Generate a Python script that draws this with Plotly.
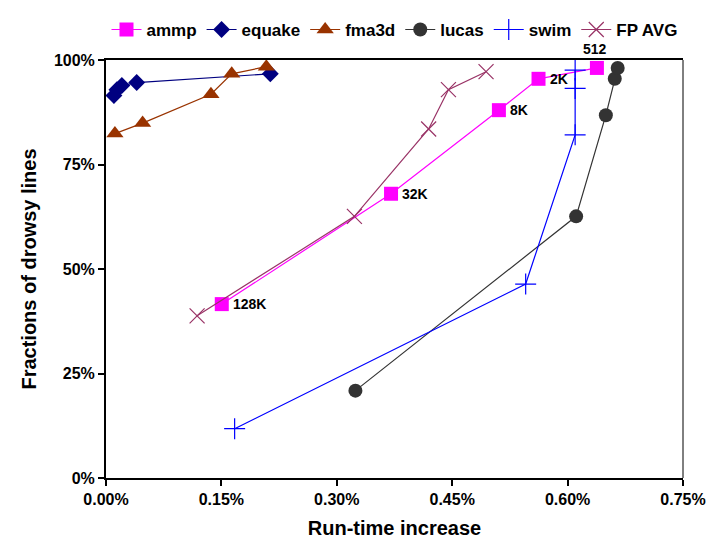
import plotly.graph_objects as go

# Run-time increase (%) vs. fraction of drowsy lines (%) per benchmark
ammp_x = [0.1505, 0.3705, 0.5107, 0.5622, 0.6381]
ammp_y = [41.6, 68.0, 88.0, 95.5, 98.1]
ammp_labels = ["128K", "32K", "8K", "2K", "512"]

equake_x = [0.0103, 0.0142, 0.0206, 0.0399, 0.2136]
equake_y = [91.5, 92.9, 93.9, 94.6, 96.7]

fma3d_x = [0.0116, 0.0476, 0.1364, 0.1634, 0.2084]
fma3d_y = [82.4, 84.9, 91.8, 96.7, 98.4]

lucas_x = [0.3242, 0.6111, 0.6497, 0.6613, 0.6651]
lucas_y = [20.9, 62.6, 86.8, 95.5, 98.1]

swim_x = [0.1672, 0.5455, 0.6098, 0.6098, 0.6098]
swim_y = [11.8, 46.4, 82.1, 93.2, 97.6]

fpavg_x = [0.1184, 0.3229, 0.4194, 0.4451, 0.4940]
fpavg_y = [38.8, 62.6, 83.5, 92.9, 97.2]

x_ticks = [0.0, 0.15, 0.30, 0.45, 0.60, 0.75]
y_ticks = [0, 25, 50, 75, 100]

FONT = "Liberation Sans, Arial, sans-serif"

fig = go.Figure()

def add_series(name, xs, ys, color, symbol, size, mline=0, mcolor=None):
    fig.add_trace(go.Scatter(
        x=xs, y=ys, name=name, mode="lines+markers",
        line=dict(color=color, width=1.2),
        marker=dict(symbol=symbol, size=size, color=mcolor or color,
                    line=dict(width=mline, color=color)),
        cliponaxis=False,
    ))

add_series("ammp", ammp_x, ammp_y, "#FF00FF", "square", 14)
add_series("equake", equake_x, equake_y, "#000080", "diamond", 13)
add_series("fma3d", fma3d_x, fma3d_y, "#993300", "triangle-up", 15)
add_series("lucas", lucas_x, lucas_y, "#333333", "circle", 14)
add_series("swim", swim_x, swim_y, "#0000FF", "cross-thin", 15, mline=1.2)
add_series("FP AVG", fpavg_x, fpavg_y, "#993366", "x-thin", 15, mline=1.2)

# Cache-size labels along the ammp curve
for lx, ly, lt in zip(ammp_x, ammp_y, ammp_labels):
    if lt == "512":
        fig.add_annotation(x=lx, y=ly, text="<b>%s</b>" % lt, showarrow=False,
                           xanchor="center", yanchor="bottom", yshift=9, xshift=-2,
                           font=dict(family=FONT, size=14, color="black"))
    else:
        fig.add_annotation(x=lx, y=ly, text="<b>%s</b>" % lt, showarrow=False,
                           xanchor="left", yanchor="middle", xshift=9,
                           font=dict(family=FONT, size=14, color="black"))

# Thin right-hand border of the plot area
fig.add_shape(type="line", xref="paper", yref="paper", x0=1, x1=1, y0=0, y1=1,
              line=dict(color="black", width=1))

fig.update_layout(
    width=718, height=554,
    margin=dict(l=106, r=29, t=53, b=76),
    paper_bgcolor="white", plot_bgcolor="white",
    font=dict(family=FONT, size=16, color="black"),
    showlegend=True,
    legend=dict(orientation="h", x=0.5, xanchor="center", y=1.115, yanchor="top",
                font=dict(family=FONT, size=17, color="black", weight="bold"),
                itemwidth=30, tracegroupgap=0, bgcolor="rgba(0,0,0,0)"),
    xaxis=dict(
        range=[0, 0.75], tickvals=x_ticks,
        ticktext=["<b>%.2f%%</b>" % v for v in x_ticks],
        showgrid=False, zeroline=False,
        showline=True, linecolor="black", linewidth=2, mirror=True,
        ticks="outside", ticklen=6, tickwidth=1.5, tickcolor="black",
        tickfont=dict(family=FONT, size=16),
        title=dict(text="<b>Run-time increase</b>", font=dict(family=FONT, size=20), standoff=14),
    ),
    yaxis=dict(
        range=[0, 100], tickvals=y_ticks,
        ticktext=["<b>%d%%</b>" % v for v in y_ticks],
        showgrid=False, zeroline=False,
        showline=True, linecolor="black", linewidth=2,
        ticks="outside", ticklen=6, tickwidth=1.5, tickcolor="black",
        tickfont=dict(family=FONT, size=16),
        title=dict(text="<b>Fractions of drowsy lines</b>", font=dict(family=FONT, size=20), standoff=12),
    ),
)

fig.write_html("out.html")
